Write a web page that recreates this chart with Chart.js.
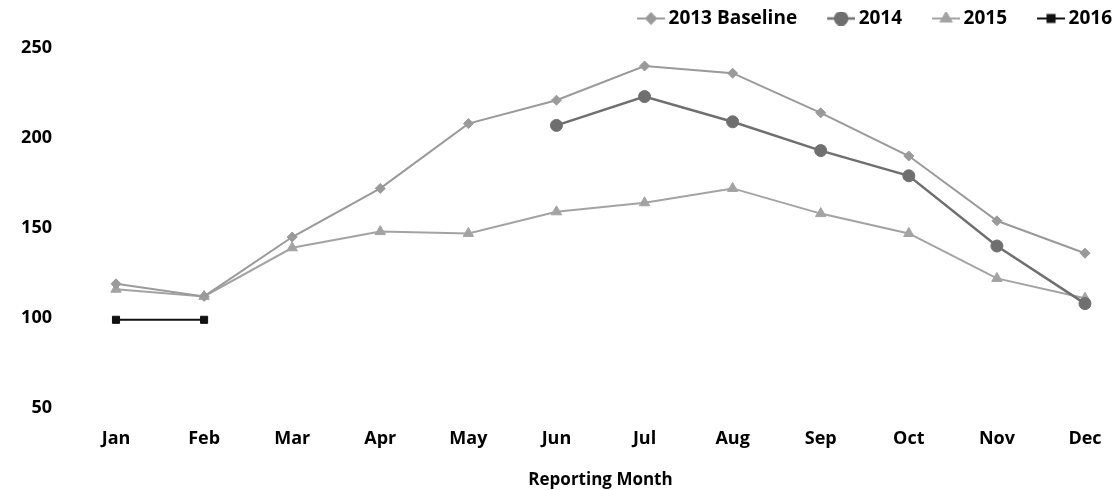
<!DOCTYPE html>
<html>
<head>
<meta charset="utf-8">
<script src="https://cdn.jsdelivr.net/npm/chart.js@4.4.1/dist/chart.umd.min.js"></script>
<style>
  html, body { margin: 0; padding: 0; background: #fff; }
  #wrap { width: 1117px; height: 490px; }
</style>
</head>
<body>
<div id="wrap"><canvas id="c" width="1117" height="490"></canvas></div>
<script>
const months = ['Jan','Feb','Mar','Apr','May','Jun','Jul','Aug','Sep','Oct','Nov','Dec'];
const baseline2013 = [119, 112, 145, 172, 208, 221, 240, 236, 214, 190, 154, 136];
const values2014 = [null, null, null, null, null, 207, 223, 209, 193, 179, 140, 108];
const values2015 = [116, 112, 139, 148, 147, 159, 164, 172, 158, 147, 122, 111];
const values2016 = [99, 99, null, null, null, null, null, null, null, null, null, null];
const yTicks = [50, 100, 150, 200, 250];

const FONT = '"Open Sans", "Noto Sans", sans-serif';

// Legend swatch: a short line with the series marker, blank space on its left
function swatch(color, style, lineWidth, radius) {
  const cv = document.createElement('canvas');
  cv.width = 52; cv.height = 14;
  const g = cv.getContext('2d');
  g.strokeStyle = color; g.lineWidth = lineWidth;
  g.beginPath(); g.moveTo(24, 7); g.lineTo(52, 7); g.stroke();
  g.fillStyle = color;
  Chart.helpers.drawPoint(g, {pointStyle: style, radius: radius, borderWidth: 1}, 38, 7);
  return cv;
}

const series = [
  {label: '2013 Baseline', data: baseline2013, color: '#9a9a9a', style: 'rectRot', lw: 2, r: 5},
  {label: '2014', data: values2014, color: '#6f6f6f', style: 'circle', lw: 2.5, r: 6},
  {label: '2015', data: values2015, color: '#a3a3a3', style: 'triangle', lw: 2, r: 6},
  {label: '2016', data: values2016, color: '#111111', style: 'rect', lw: 2, r: 5}
];

// nudge the legend block into the top-right corner
const legendNudge = {
  id: 'legendNudge',
  afterLayout(chart) {
    const L = chart.legend;
    L.top -= 10; L.bottom -= 10;
    L.left += 7; L.right += 7;
  }
};

new Chart(document.getElementById('c'), {
  type: 'line',
  data: {
    labels: months,
    datasets: series.map(s => ({
      label: s.label, data: s.data, borderColor: s.color, backgroundColor: s.color,
      borderWidth: s.lw, pointStyle: s.style, pointRadius: s.r,
      pointBorderWidth: 1, pointBackgroundColor: s.color, pointBorderColor: s.color, tension: 0
    }))
  },
  plugins: [legendNudge],
  options: {
    responsive: false, animation: false, devicePixelRatio: 1,
    layout: { padding: { left: 0, right: 0, top: 0, bottom: 0 } },
    plugins: {
      tooltip: { enabled: false },
      legend: {
        position: 'top', align: 'end',
        labels: {
          usePointStyle: true, pointStyleWidth: 40, padding: 12, color: '#000',
          font: { family: FONT, size: 19, weight: 'bold' },
          generateLabels(chart) {
            return series.map((s, i) => ({
              text: s.label, pointStyle: swatch(s.color, s.style, s.lw, s.r),
              fillStyle: s.color, strokeStyle: s.color, lineWidth: 0, hidden: false, datasetIndex: i, fontColor: '#000'
            }));
          }
        }
      }
    },
    scales: {
      x: {
        afterFit(scale) { scale.paddingLeft = 0; scale.paddingRight = 0; },
        grid: { display: false, drawTicks: false }, border: { display: false },
        ticks: { color: '#000', padding: 20, font: { family: FONT, size: 18, weight: 'bold' } },
        title: { display: true, text: 'Reporting Month', color: '#000', padding: { top: 0, bottom: 0 },
                 font: { family: FONT, size: 17, weight: 'bold' } }
      },
      y: {
        min: 50, max: 250,
        afterBuildTicks(scale) { scale.ticks = yTicks.map(v => ({ value: v })); },
        afterFit(scale) { scale.width = 116; scale.paddingTop = 48; scale.paddingBottom = 12; },
        grid: { display: false, drawTicks: false }, border: { display: false },
        ticks: { color: '#000', padding: 64, font: { family: FONT, size: 18, weight: 'bold' } }
      },
      // empty strip on the right edge of the plot
      yRight: {
        position: 'right', min: 50, max: 250,
        afterFit(scale) { scale.width = 32; },
        grid: { display: false, drawTicks: false }, border: { display: false },
        ticks: { display: false }
      }
    }
  }
});
</script>
</body>
</html>
